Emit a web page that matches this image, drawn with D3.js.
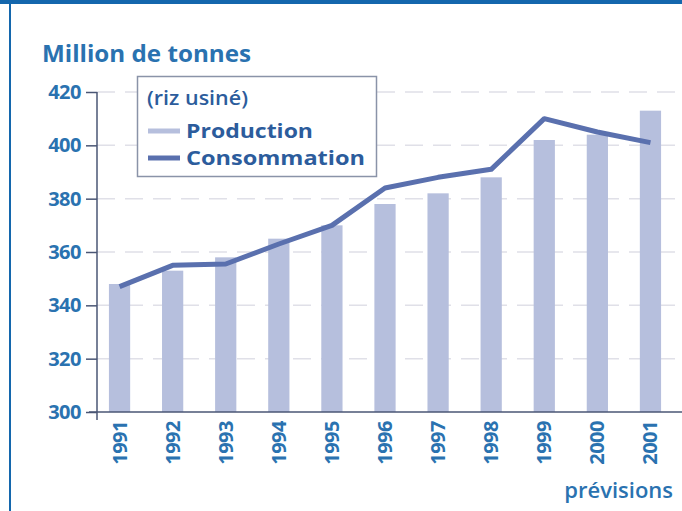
<!DOCTYPE html>
<html>
<head>
<meta charset="utf-8">
<script src="https://cdn.jsdelivr.net/npm/d3@7"></script>
<style>
  body { margin: 0; background: #fff; }
  svg { display: block; font-family: "Open Sans", sans-serif; }
</style>
</head>
<body>
<div id="chart"></div>
<script>
// data
var years = ["1991", "1992", "1993", "1994", "1995", "1996", "1997", "1998", "1999", "2000", "2001"];
var production = [348, 353, 358, 365, 370, 378, 382, 388, 402, 404, 413];
var consommation = [347, 355, 355.5, 363, 370, 384, 388, 391, 410, 405, 401];
var yTicks = [300, 320, 340, 360, 380, 400, 420];

var W = 682, H = 511;
var blue = "#2a72b0";
var legendBlue = "#2c5c9c";

var svg = d3.select("#chart").append("svg")
    .attr("width", W)
    .attr("height", H);

// frame
svg.append("rect").attr("x", 0).attr("y", 0).attr("width", W).attr("height", 4).attr("fill", "#1467ad");
svg.append("rect").attr("x", 9).attr("y", 0).attr("width", 2).attr("height", H).attr("fill", "#1467ad");

var x = d3.scaleBand()
    .domain(years)
    .range([93, 677])
    .paddingInner(0.6)
    .paddingOuter(0.3);

var y = d3.scaleLinear()
    .domain([300, 420])
    .range([412, 92]);

var axisX = 97;

// grid lines (dashed, faint)
svg.append("g")
  .selectAll("line")
  .data(yTicks.filter(function(d) { return d > 300; }))
  .join("line")
    .attr("x1", axisX)
    .attr("x2", W)
    .attr("y1", function(d) { return y(d); })
    .attr("y2", function(d) { return y(d); })
    .attr("stroke", "#e0e0e8")
    .attr("stroke-width", 1.5)
    .attr("stroke-dasharray", "18,10");

// bars
svg.append("g")
  .selectAll("rect")
  .data(production)
  .join("rect")
    .attr("x", function(d, i) { return x(years[i]); })
    .attr("width", x.bandwidth())
    .attr("y", function(d) { return y(d); })
    .attr("height", function(d) { return y(300) - y(d); })
    .attr("fill", "#b6bfdd");

// consumption line
var line = d3.line()
    .x(function(d, i) { return x(years[i]) + x.bandwidth() / 2; })
    .y(function(d) { return y(d); });

svg.append("path")
    .datum(consommation)
    .attr("d", line)
    .attr("fill", "none")
    .attr("stroke", "#5a70ae")
    .attr("stroke-width", 5)
    .attr("stroke-linejoin", "round");

// y axis
var gy = svg.append("g")
    .attr("transform", "translate(" + axisX + ",0)")
    .call(d3.axisLeft(y).tickValues(yTicks).tickSize(11).tickPadding(5).tickSizeOuter(0));
gy.select(".domain").attr("stroke", "#4a5675").attr("stroke-width", 1.5);
gy.selectAll(".tick line").attr("stroke", "#4a5675").attr("stroke-width", 1.5);
gy.selectAll("text")
    .attr("fill", blue)
    .attr("font-size", 20)
    .attr("font-weight", 700)
    .attr("letter-spacing", -0.5)
    .attr("font-family", "Open Sans, sans-serif");
gy.select(".domain").attr("d", "M0," + y(420) + "V" + (y(300) + 8));

// x axis
var gx = svg.append("g")
    .attr("transform", "translate(0," + y(300) + ")")
    .call(d3.axisBottom(x).tickSize(0).tickPadding(0));
gx.select(".domain").attr("d", "M" + (axisX - 8) + ",0H" + W)
    .attr("stroke", "#4a5675").attr("stroke-width", 1.5);
gx.selectAll("text")
    .attr("fill", blue)
    .attr("font-size", 20)
    .attr("font-weight", 700)
    .attr("letter-spacing", -0.5)
    .attr("font-family", "Open Sans, sans-serif")
    .attr("transform", "rotate(-90)")
    .attr("text-anchor", "end")
    .attr("x", -9)
    .attr("y", 0)
    .attr("dy", "0.35em");

// title
svg.append("text")
    .attr("x", 42)
    .attr("y", 62)
    .attr("fill", blue)
    .attr("font-size", 24)
    .attr("font-weight", 700)
    .attr("textLength", 209)
    .attr("lengthAdjust", "spacingAndGlyphs")
    .text("Million de tonnes");

svg.append("text")
    .attr("x", 673)
    .attr("y", 498)
    .attr("text-anchor", "end")
    .attr("fill", blue)
    .attr("font-size", 22)
    .attr("font-weight", 600)
    .text("prévisions");

// legend
var legend = svg.append("g");
legend.append("rect")
    .attr("x", 137.5).attr("y", 76.5)
    .attr("width", 239).attr("height", 100)
    .attr("fill", "#fff")
    .attr("stroke", "#8a93a8")
    .attr("stroke-width", 1.5);
legend.append("text")
    .attr("x", 147).attr("y", 105)
    .attr("fill", legendBlue)
    .attr("font-size", 19.5)
    .attr("font-weight", 600)
    .attr("textLength", 101)
    .attr("lengthAdjust", "spacingAndGlyphs")
    .text("(riz usiné)");

var legendItems = [
  { label: "Production", color: "#b6bfdd", len: 127 },
  { label: "Consommation", color: "#5a70ae", len: 179 }
];
var li = legend.selectAll("g.item")
  .data(legendItems)
  .join("g")
    .attr("class", "item")
    .attr("transform", function(d, i) { return "translate(148," + (131 + i * 27) + ")"; });
li.append("line")
    .attr("x1", 0).attr("x2", 32)
    .attr("stroke", function(d) { return d.color; })
    .attr("stroke-width", 5);
li.append("text")
    .attr("x", 38)
    .attr("y", 7)
    .attr("fill", legendBlue)
    .attr("font-size", 19.5)
    .attr("font-weight", 700)
    .attr("textLength", function(d) { return d.len; })
    .attr("lengthAdjust", "spacingAndGlyphs")
    .text(function(d) { return d.label; });
</script>
</body>
</html>
